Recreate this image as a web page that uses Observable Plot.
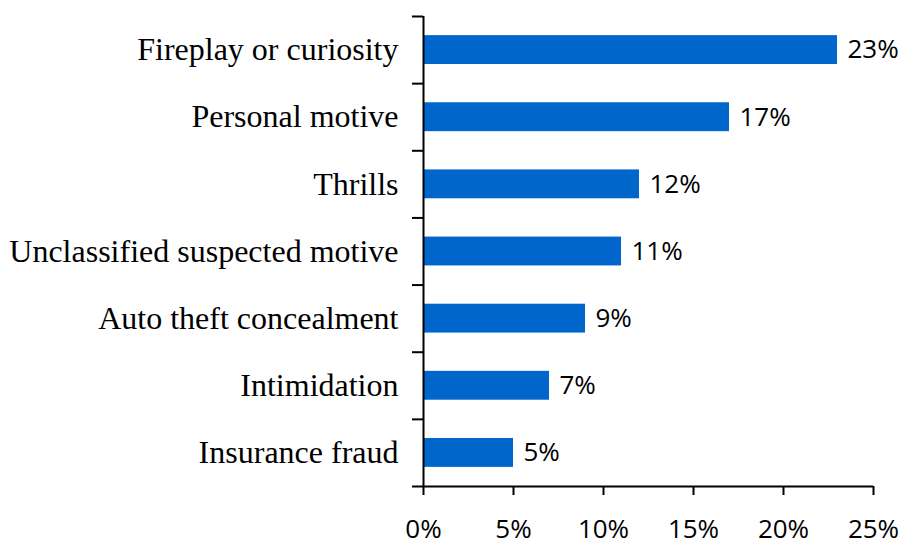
<!DOCTYPE html>
<html>
<head>
<meta charset="utf-8">
<script src="https://cdn.jsdelivr.net/npm/d3@7"></script>
<script src="https://cdn.jsdelivr.net/npm/@observablehq/plot@0.6"></script>
<style>
  html, body { margin: 0; padding: 0; background: #fff; }
</style>
</head>
<body>
<div id="chart"></div>
<script>
const categories = [
  "Fireplay or curiosity",
  "Personal motive",
  "Thrills",
  "Unclassified suspected motive",
  "Auto theft concealment",
  "Intimidation",
  "Insurance fraud"
];
const values = [23, 17, 12, 11, 9, 7, 5];
const xTicks = [0, 5, 10, 15, 20, 25];

const data = categories.map((c, i) => ({cat: c, v: values[i], i}));
const pad = 0.285;

const chart = Plot.plot({
  width: 903,
  height: 546,
  marginLeft: 423,
  marginRight: 30,
  marginTop: 16,
  marginBottom: 60,
  style: {background: "#fff", color: "#000"},
  x: {domain: [0, 25], label: null},
  y: {domain: [0, categories.length], reverse: true, label: null},
  marks: [
    Plot.rectX(data, {
      x1: 0, x2: "v",
      y1: d => d.i + pad, y2: d => d.i + 1 - pad,
      fill: "#0066CC"
    }),
    Plot.ruleX([0], {stroke: "#000", strokeWidth: 2}),
    Plot.ruleY([categories.length], {stroke: "#000", strokeWidth: 2}),
    Plot.axisY({
      ticks: d3.range(categories.length + 1),
      tickSize: 11,
      tickFormat: () => "",
      label: null,
      stroke: "#000",
      strokeWidth: 2
    }),
    Plot.axisX({
      ticks: xTicks,
      tickSize: 9,
      tickPadding: 24,
      tickFormat: d => d + "%",
      label: null,
      fontSize: 26,
      fontFamily: "Open Sans",
      stroke: "#000",
      strokeWidth: 2,
      fill: "#000"
    }),
    Plot.text(data, {
      x: 0, y: d => d.i + 0.5, text: "cat",
      textAnchor: "end", dx: -25,
      fontSize: 32, fontFamily: "Liberation Serif", fill: "#000"
    }),
    Plot.text(data, {
      x: "v", y: d => d.i + 0.5, text: d => d.v + "%",
      textAnchor: "start", dx: 10,
      fontSize: 26, fontFamily: "Open Sans", fill: "#000"
    })
  ]
});
document.getElementById("chart").appendChild(chart);
</script>
</body>
</html>
